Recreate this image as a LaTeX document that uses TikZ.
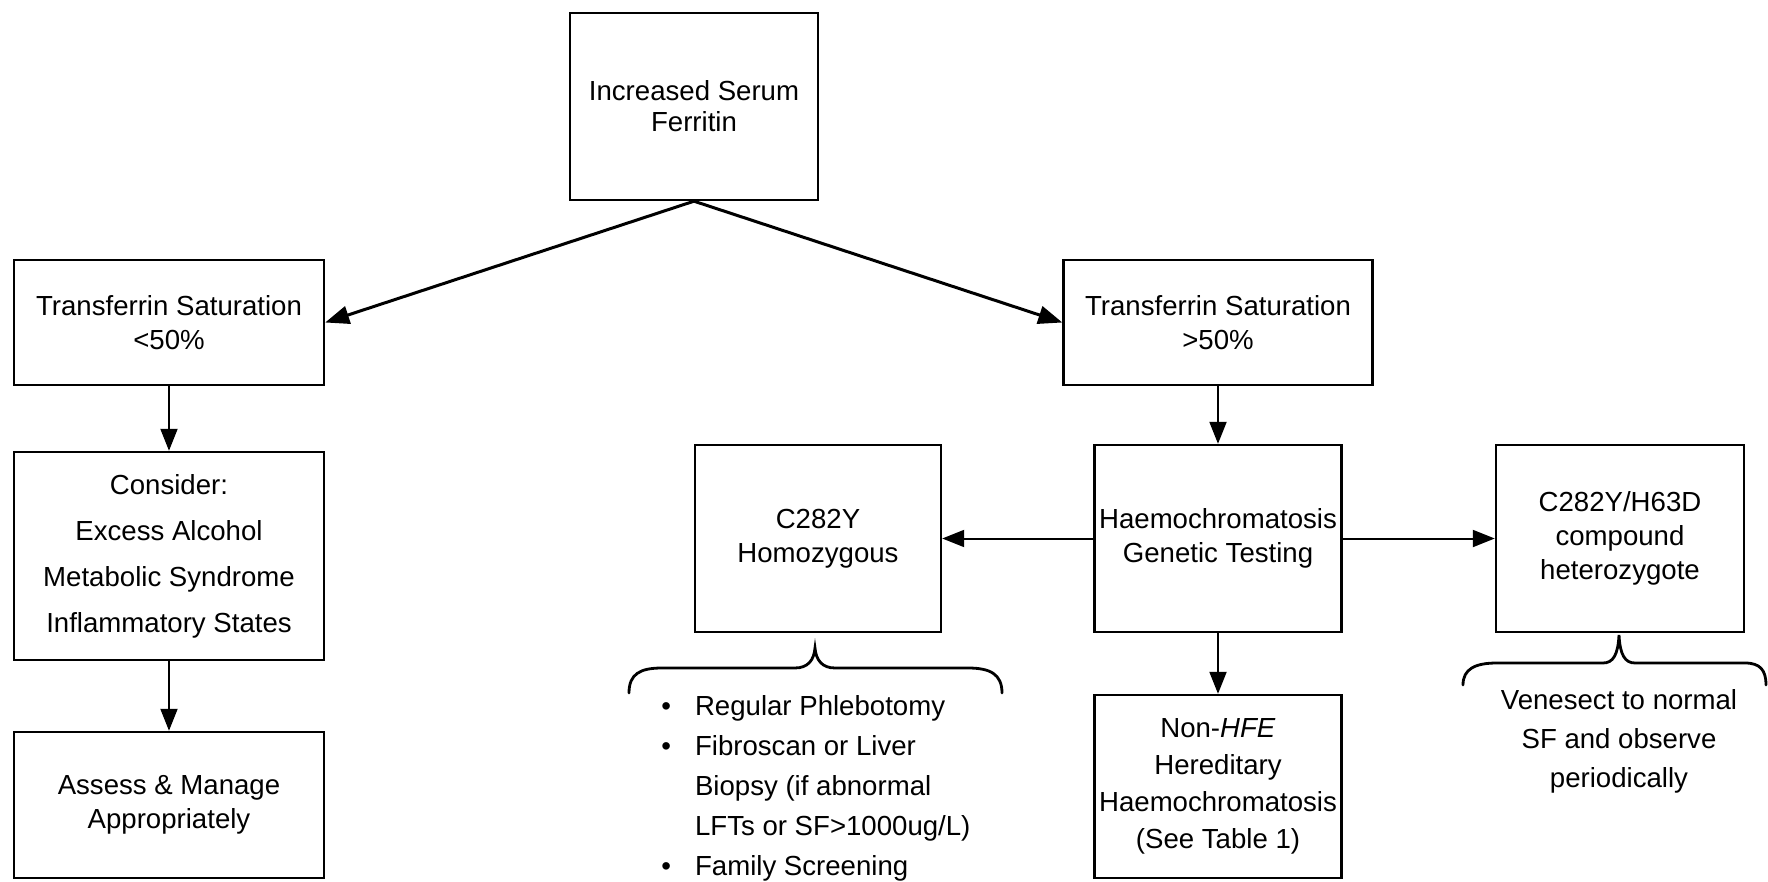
\documentclass[tikz,border=0pt]{standalone}
\usepackage{fontspec}
\setmainfont{Liberation Sans}
\usetikzlibrary{arrows.meta}
\begin{document}
\begin{tikzpicture}[x=0.5pt,y=-0.5pt,
  bx/.style={draw=black, line width=1.2pt, rectangle, inner sep=0pt, align=center, font=\fontsize{13.8}{17}\selectfont},
  arr/.style={line width=1pt, -{Triangle[length=11pt,width=8.5pt]}},
  darr/.style={line width=1.5pt, -{Triangle[length=12pt,width=9pt]}},
  brc/.style={line width=1.4pt, line cap=round},
  txt/.style={inner sep=0pt, align=center}]
\useasboundingbox[fill=white] (0,0) rectangle (1768,882);

\node[bx, minimum width=124pt, minimum height=93.5pt, font=\fontsize{13.8}{15.5}\selectfont] (top) at (694,106.5) {Increased Serum\\Ferritin};
\node[bx, minimum width=155pt, minimum height=62.5pt] (tslo) at (169,322.5) {Transferrin Saturation\\<50\%};
\node[bx, minimum width=154.5pt, minimum height=62.5pt] (tshi) at (1218,322.5) {Transferrin Saturation\\>50\%};
\node[bx, minimum width=155pt, minimum height=104pt, font=\fontsize{13.8}{23}\selectfont] (consider) at (169,556) {Consider:\\Excess Alcohol\\Metabolic Syndrome\\Inflammatory States};
\node[bx, minimum width=155pt, minimum height=73pt] (assess) at (169,805) {Assess \& Manage\\Appropriately};
\node[bx, minimum width=123pt, minimum height=93.5pt] (homo) at (818,538.5) {C282Y\\Homozygous};
\node[bx, minimum width=123.5pt, minimum height=93.5pt] (gen) at (1218,538.5) {Haemochromatosis\\Genetic Testing};
\node[bx, minimum width=124pt, minimum height=93.5pt] (comp) at (1620,538.5) {C282Y/H63D\\compound\\heterozygote};
\node[bx, minimum width=123.5pt, minimum height=91.5pt, font=\fontsize{13.8}{18.5}\selectfont] (nonhfe) at (1218,786.5) {Non-\textit{HFE}\\Hereditary\\Haemochromatosis\\(See Table 1)};

\node[txt, font=\fontsize{13.8}{19.5}\selectfont] (vene) at (1619,741) {Venesect to normal\\SF and observe\\periodically};
\node[txt, anchor=west, font=\fontsize{13.8}{20}\selectfont] (care) at (661,787) {\begin{tabular}{@{}l@{\hspace{12pt}}l@{}}\textbullet & Regular Phlebotomy\\ \textbullet & Fibroscan or Liver\\ & Biopsy (if abnormal\\ & LFTs or SF>1000ug/L)\\ \textbullet & Family Screening\end{tabular}};

\draw[darr] (top.south) -- (tslo.east);
\draw[darr] (top.south) -- (tshi.west);
\draw[arr] (tslo.south) -- (consider.north);
\draw[arr] (consider.south) -- (assess.north);
\draw[arr] (tshi.south) -- (gen.north);
\draw[arr] (gen.west) -- (homo.east);
\draw[arr] (gen.east) -- (comp.west);
\draw[arr] (gen.south) -- (nonhfe.north);

\draw[brc] (629,693) .. controls (629,674) and (640,668) .. (662,668) -- (795,668) .. controls (808,668) and (814,660) .. (815,648) .. controls (816,660) and (822,668) .. (835,668) -- (968,668) .. controls (990,668) and (1002,674) .. (1002,693);
\draw[brc] (1463,685) .. controls (1463,669) and (1475,663) .. (1497,663) -- (1603,663) .. controls (1613,663) and (1618,655) .. (1619,635) .. controls (1620,655) and (1625,663) .. (1635,663) -- (1745,663) .. controls (1760,663) and (1766,670) .. (1766,685);
\end{tikzpicture}
\end{document}
